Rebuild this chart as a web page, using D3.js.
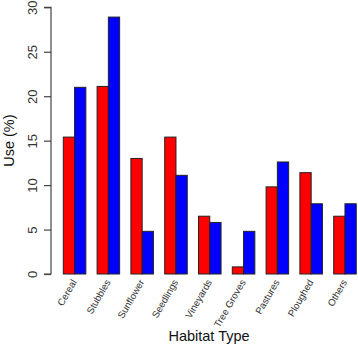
<!DOCTYPE html>
<html>
<head>
<meta charset="utf-8">
<script src="https://cdn.jsdelivr.net/npm/d3@7"></script>
<style>
  body { margin: 0; background: #fff; }
  text { font-family: "Liberation Sans", Arial, sans-serif; }
</style>
</head>
<body>
<div id="chart"></div>
<script>
// data
var habitats = ["Cereal", "Stubbles", "Sunflower", "Seedlings", "Vineyards", "Tree Groves", "Pastures", "Ploughed", "Others"]
var seriesRed = [15.4, 21.1, 13.0, 15.4, 6.5, 0.8, 9.8, 11.4, 6.5]
var seriesBlue = [21.0, 28.9, 4.8, 11.1, 5.8, 4.8, 12.6, 7.9, 7.9]
var yTicks = [0, 5, 10, 15, 20, 25, 30]

var W = 358, H = 346
var plot = { left: 51, top: 7.3, bottom: 274 }

var svg = d3.select("#chart").append("svg")
  .attr("width", W)
  .attr("height", H)

var y = d3.scaleLinear().domain([0, 30]).range([plot.bottom, plot.top])

// groups: 2 bars + 1 gap each, R barplot style
var x = d3.scaleBand()
  .domain(habitats)
  .range([63.3 - 33.8 / 3, 63.3 + 33.8 * 9 - 33.8 / 3])
  .paddingInner(0)
var bw = x.bandwidth() / 3

var data = habitats.map(function (h, i) {
  return { name: h, vals: [seriesRed[i], seriesBlue[i]] }
})
var colors = ["#ff0000", "#0000ff"]

var groups = svg.selectAll("g.grp").data(data).enter().append("g")
  .attr("class", "grp")
  .attr("transform", d => "translate(" + (x(d.name) + bw) + ",0)")

groups.selectAll("rect").data(d => d.vals).enter().append("rect")
  .attr("x", (d, i) => i * bw)
  .attr("y", d => y(d))
  .attr("width", bw)
  .attr("height", d => y(0) - y(d))
  .attr("fill", (d, i) => colors[i])
  .attr("stroke", "#222")
  .attr("stroke-width", 1)

// y axis
var yAxis = d3.axisLeft(y).tickValues(yTicks).tickSize(7).tickPadding(0).tickFormat(d3.format("d"))
var ya = svg.append("g")
  .attr("transform", "translate(" + plot.left + ",0)")
  .call(yAxis)
ya.select(".domain").attr("stroke", "#444").attr("d", "M-7," + y(0) + "H0V" + y(30) + "H-7").attr("stroke-width", 1.2)
ya.selectAll(".tick line").attr("stroke", "#444").attr("stroke-width", 1.2)
ya.selectAll(".tick text")
  .attr("x", null).attr("dy", null)
  .attr("transform", "translate(-14,0) rotate(-90)")
  .attr("text-anchor", "middle")
  .attr("fill", "#333")
  .style("font-size", "13px")

// x labels, rotated, ending just right of group centre
svg.selectAll("text.xlab").data(habitats).enter().append("text")
  .attr("class", "xlab")
  .attr("text-anchor", "end")
  .attr("transform", d => "translate(" + (x(d) + 2 * bw + 2.5) + ",282) rotate(-60)")
  .attr("fill", "#333")
  .style("font-size", "9.7px")
  .text(d => d)

// axis titles
svg.append("text")
  .attr("transform", "translate(14," + ((plot.top + plot.bottom) / 2) + ") rotate(-90)")
  .attr("text-anchor", "middle")
  .style("font-size", "14.5px")
  .attr("fill", "#111")
  .text("Use (%)")

svg.append("text")
  .attr("x", 209)
  .attr("y", 341)
  .attr("text-anchor", "middle")
  .style("font-size", "14.5px")
  .attr("fill", "#111")
  .text("Habitat Type")
</script>
</body>
</html>
